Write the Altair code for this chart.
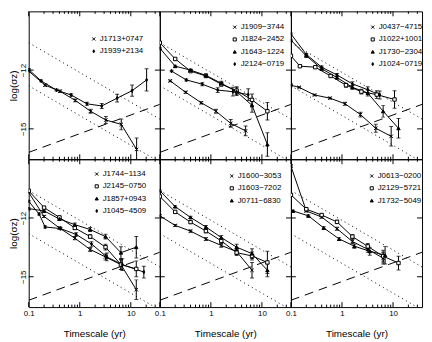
import altair as alt
import pandas as pd

# ---------------- data ----------------
# top-left panel
J1713_T = [0.1, 0.21, 0.41, 0.82, 1.63, 3.25, 6.5, 13.0]
J1713_V = [-12.05, -12.77, -13.08, -13.55, -14.1, -14.55, -14.77, -16.05]
J1713_E = [0.05, 0.05, 0.06, 0.07, 0.1, 0.18, 0.27, 0.58]
J1939_T = [0.1, 0.175, 0.35, 0.68, 1.38, 2.7, 5.4, 10.6, 20.4]
J1939_V = [-11.97, -12.55, -13.02, -13.27, -13.72, -13.83, -13.43, -13.05, -12.5]
J1939_E = [0.05, 0.05, 0.05, 0.06, 0.08, 0.13, 0.2, 0.29, 0.57]
# top-middle panel
J1909_T = [0.16, 0.32, 0.65, 1.26, 2.45, 4.8]
J1909_V = [-12.55, -13.13, -13.67, -14.1, -14.72, -15.1]
J1909_E = [0.04, 0.05, 0.06, 0.1, 0.2, 0.25]
J1824_T = [0.1, 0.2, 0.4, 0.8, 1.6, 3.2, 6.4, 12.8]
J1824_V = [-10.6, -11.43, -12.05, -12.3, -12.72, -13.05, -13.52, -14.1]
J1824_E = [0.04, 0.05, 0.06, 0.08, 0.1, 0.2, 0.3, 0.45]
J1643_T = [0.1, 0.2, 0.4, 0.8, 1.6, 3.2, 6.4, 12.8]
J1643_V = [-10.88, -11.8, -12.0, -12.27, -12.67, -13.1, -13.8, -15.8]
J1643_E = [0.04, 0.05, 0.06, 0.08, 0.1, 0.2, 0.35, 0.6]
J2124_T = [0.17, 0.33, 0.68, 1.36, 2.7, 5.4]
J2124_V = [-12.05, -12.5, -12.72, -13.02, -13.1, -13.25]
J2124_E = [0.04, 0.05, 0.08, 0.12, 0.22, 0.3]
# top-right panel
J0437_T = [0.1, 0.145, 0.29, 0.58, 1.15, 2.3, 4.6, 9.2]
J0437_V = [-12.77, -12.88, -13.27, -13.43, -13.72, -14.27, -14.97, -15.38]
J0437_E = [0.03, 0.03, 0.04, 0.05, 0.08, 0.12, 0.2, 0.5]
J1022_T = [0.1, 0.15, 0.3, 0.6, 1.2, 2.4, 4.8, 10.7]
J1022_V = [-11.27, -11.8, -11.85, -12.3, -12.77, -13.1, -13.25, -13.5]
J1022_E = [0.04, 0.05, 0.05, 0.07, 0.1, 0.12, 0.2, 0.45]
J1730_T = [0.1, 0.2, 0.4, 0.8, 1.6, 3.2, 6.4, 12.8]
J1730_V = [-10.47, -11.27, -11.93, -12.38, -12.88, -13.17, -14.1, -14.97]
J1730_E = [0.04, 0.05, 0.06, 0.08, 0.1, 0.15, 0.3, 0.5]
J1024_T = [0.1, 0.2, 0.4, 0.8, 1.6, 3.2, 5.5]
J1024_V = [-10.15, -11.2, -11.85, -12.25, -12.7, -13.0, -13.27]
J1024_E = [0.04, 0.05, 0.06, 0.08, 0.1, 0.15, 0.2]
# bottom-left panel
J1744_T = [0.1, 0.2, 0.4, 0.8, 1.6, 3.2, 6.4, 12.8]
J1744_V = [-10.7, -11.92, -12.51, -13.03, -13.61, -13.99, -14.38, -15.66]
J1744_E = [0.04, 0.05, 0.06, 0.08, 0.1, 0.15, 0.25, 0.5]
J2145_T = [0.1, 0.2, 0.4, 0.8, 1.6, 3.2, 6.4, 12.8]
J2145_V = [-10.61, -11.47, -11.97, -12.51, -12.95, -13.49, -14.38, -14.6]
J2145_E = [0.04, 0.05, 0.06, 0.08, 0.1, 0.15, 0.25, 0.4]
J1857_T = [0.1, 0.2, 0.4, 0.8, 1.6, 3.2, 6.4, 12.8]
J1857_V = [-11.52, -11.64, -12.05, -12.34, -12.59, -12.95, -13.77, -13.49]
J1857_E = [0.04, 0.05, 0.06, 0.08, 0.1, 0.12, 0.3, 0.55]
J1045_T = [0.1, 0.16, 0.21, 0.42, 0.85, 1.7, 3.4, 6.8, 18.0]
J1045_V = [-11.15, -11.8, -12.46, -12.54, -12.84, -13.33, -13.99, -14.38, -14.76]
J1045_E = [0.04, 0.05, 0.05, 0.06, 0.08, 0.12, 0.2, 0.3, 0.3]
# bottom-middle panel
J1600_T = [0.1, 0.2, 0.4, 0.8, 1.6, 3.2, 6.4]
J1600_V = [-11.89, -12.38, -12.67, -13.07, -13.4, -13.72, -14.67]
J1600_E = [0.04, 0.05, 0.06, 0.08, 0.1, 0.15, 0.4]
J1603_T = [0.1, 0.2, 0.4, 0.8, 1.6, 3.2, 6.4, 12.8]
J1603_V = [-10.9, -11.69, -12.21, -12.67, -13.17, -13.77, -13.94, -14.27]
J1603_E = [0.04, 0.05, 0.06, 0.08, 0.1, 0.15, 0.2, 0.57]
J0711_T = [0.1, 0.2, 0.4, 0.8, 1.6, 3.2, 6.4, 12.8]
J0711_V = [-10.61, -11.42, -11.97, -12.46, -13.0, -13.49, -13.82, -14.67]
J0711_E = [0.04, 0.05, 0.06, 0.08, 0.1, 0.15, 0.25, 0.33]
# bottom-right panel
J0613_T = [0.1, 0.2, 0.4, 0.8, 1.6, 3.2, 6.4]
J0613_V = [-9.35, -11.64, -11.95, -12.55, -13.2, -13.6, -14.05]
J0613_E = [0.04, 0.05, 0.06, 0.08, 0.1, 0.15, 0.3]
J2129_T = [0.1, 0.2, 0.4, 0.8, 1.6, 3.2, 6.4, 12.8]
J2129_V = [-10.82, -11.55, -11.85, -12.2, -12.95, -13.45, -13.95, -14.3]
J2129_E = [0.04, 0.05, 0.06, 0.08, 0.1, 0.15, 0.3, 0.35]
J1732_T = [0.11, 0.22, 0.44, 0.88, 1.75, 3.5, 7.0]
J1732_V = [-11.64, -11.89, -12.51, -13.07, -13.44, -13.7, -13.9]
J1732_E = [0.04, 0.05, 0.06, 0.08, 0.1, 0.2, 0.45]

# symbols: 0 = x, 1 = open square, 2 = triangle, 3 = diamond
PANELS = [
    [("J1713+0747", J1713_T, J1713_V, J1713_E, 0), ("J1939+2134", J1939_T, J1939_V, J1939_E, 3)],
    [("J1909\u22123744", J1909_T, J1909_V, J1909_E, 0), ("J1824\u22122452", J1824_T, J1824_V, J1824_E, 1),
     ("J1643\u22121224", J1643_T, J1643_V, J1643_E, 2), ("J2124\u22120719", J2124_T, J2124_V, J2124_E, 3)],
    [("J0437\u22124715", J0437_T, J0437_V, J0437_E, 0), ("J1022+1001", J1022_T, J1022_V, J1022_E, 1),
     ("J1730\u22122304", J1730_T, J1730_V, J1730_E, 2), ("J1024\u22120719", J1024_T, J1024_V, J1024_E, 3)],
    [("J1744\u22121134", J1744_T, J1744_V, J1744_E, 0), ("J2145\u22120750", J2145_T, J2145_V, J2145_E, 1),
     ("J1857+0943", J1857_T, J1857_V, J1857_E, 2), ("J1045\u22124509", J1045_T, J1045_V, J1045_E, 3)],
    [("J1600\u22123053", J1600_T, J1600_V, J1600_E, 0), ("J1603\u22127202", J1603_T, J1603_V, J1603_E, 1),
     ("J0711\u22126830", J0711_T, J0711_V, J0711_E, 2)],
    [("J0613\u22120200", J0613_T, J0613_V, J0613_E, 0), ("J2129\u22125721", J2129_T, J2129_V, J2129_E, 1),
     ("J1732\u22125049", J1732_T, J1732_V, J1732_E, 2)],
]
SHAPE_PATHS = ["M-1,-1L1,1M-1,1L1,-1", "square", "triangle-up", "M0,-1L0.55,0L0,1L-0.55,0Z"]
SHAPE_FILLS = ["transparent", "white", "black", "black"]

# reference lines (two dotted white-noise lines and a dashed line)
DOT_T = [0.1, 37.0]
DOT_HI = [-10.6, -14.5]
DOT_LO = [-12.8, -16.7]
DASH_T = [0.1, 37.0]
DASH_V = [-16.2, -13.75]

X_DOMAIN = [0.1, 37.0]
Y_DOMAIN = [-16.55, -9.0]
XMAJ = [0.1, 1, 10]
XMIN = [0.2, 0.3, 0.4, 0.5, 0.6, 0.7, 0.8, 0.9, 2, 3, 4, 5, 6, 7, 8, 9, 20, 30]
YMAJ = [-15, -12]

LEGEND_POS = [(62, 24), (72, 12), (79, 12), (65, 11), (69, 13), (78, 13)]

W, H = 133, 150
FONT = "Liberation Sans"


def panel(idx, series):
    row, col = divmod(idx, 3)
    xs = alt.Scale(type="log", domain=X_DOMAIN)
    ys = alt.Scale(domain=Y_DOMAIN)
    if row == 1:
        xaxis = alt.Axis(values=XMAJ, format="~g", title="Timescale (yr)", domain=False,
                         ticks=False, grid=False, labelFontSize=8, labelPadding=3,
                         titleFontSize=10, titlePadding=11, labelFlush=False)
    else:
        xaxis = None
    if col == 0:
        yaxis = alt.Axis(values=YMAJ, title="log(\u03c3z)", domain=False, ticks=False,
                         grid=False, labelAngle=-90, labelAlign="center",
                         labelBaseline="bottom", labelFontSize=8, labelPadding=1,
                         titleFontSize=10, titlePadding=1)
    else:
        yaxis = None

    def X(f):
        return alt.X(f, type="quantitative", scale=xs, axis=xaxis)

    def Y(f):
        return alt.Y(f, type="quantitative", scale=ys, axis=yaxis)

    rows = []
    for name, T, V, E, _ in series:
        for t, v, e in zip(T, V, E):
            rows.append({"series": name, "T": t, "V": v, "lo": v - e, "hi": v + e})
    df = pd.DataFrame(rows)
    names = [s[0] for s in series]
    shapes = [SHAPE_PATHS[s[4]] for s in series]
    fills = [SHAPE_FILLS[s[4]] for s in series]
    n = len(names)

    dot_df = pd.DataFrame({"T": DOT_T + DOT_T, "V": DOT_HI + DOT_LO, "line": ["a", "a", "b", "b"]})
    dash_df = pd.DataFrame({"T": DASH_T, "V": DASH_V})

    dotted = alt.Chart(dot_df).mark_line(color="black", strokeWidth=1, strokeDash=[1, 3.5],
                                         clip=True).encode(x=X("T"), y=Y("V"), detail="line:N")
    dashed = alt.Chart(dash_df).mark_line(color="black", strokeWidth=1, strokeDash=[9, 6],
                                          clip=True).encode(x=X("T"), y=Y("V"))
    lines = alt.Chart(df).mark_line(color="black", strokeWidth=1, clip=True).encode(
        x=X("T"), y=Y("V"), detail="series:N")
    bars = alt.Chart(df).mark_rule(color="black", strokeWidth=1, clip=True).encode(
        x=X("T"), y=Y("lo"), y2="hi")
    cap_lo = alt.Chart(df).mark_tick(color="black", orient="horizontal", size=4, thickness=1,
                                     clip=True).encode(x=X("T"), y=Y("lo"))
    cap_hi = alt.Chart(df).mark_tick(color="black", orient="horizontal", size=4, thickness=1,
                                     clip=True).encode(x=X("T"), y=Y("hi"))

    lx, ly = LEGEND_POS[idx]
    leg = alt.Legend(orient="none", legendX=lx, legendY=ly, title=None, labelFontSize=8,
                     labelFont=FONT, labelColor="black", symbolSize=10,
                     symbolStrokeWidth=1, rowPadding=4.5, labelOffset=2, padding=0)
    points = alt.Chart(df).mark_point(strokeWidth=1, size=12, opacity=1, clip=True).encode(
        x=X("T"), y=Y("V"),
        shape=alt.Shape("series:N", scale=alt.Scale(domain=names, range=shapes), legend=leg),
        fill=alt.Fill("series:N", scale=alt.Scale(domain=names, range=fills), legend=leg),
        stroke=alt.Stroke("series:N", scale=alt.Scale(domain=names, range=["black"] * n), legend=leg),
    )

    xmaj = pd.DataFrame({"T": XMAJ})
    xmin = pd.DataFrame({"T": XMIN})
    ymaj = pd.DataFrame({"V": YMAJ})
    tk = dict(color="black", strokeWidth=1)
    frame = [
        alt.Chart(xmaj).mark_rule(**tk).encode(x=X("T"), y=alt.value(0), y2=alt.value(5)),
        alt.Chart(xmaj).mark_rule(**tk).encode(x=X("T"), y=alt.value(H), y2=alt.value(H - 5)),
        alt.Chart(xmin).mark_rule(**tk).encode(x=X("T"), y=alt.value(0), y2=alt.value(2.5)),
        alt.Chart(xmin).mark_rule(**tk).encode(x=X("T"), y=alt.value(H), y2=alt.value(H - 2.5)),
        alt.Chart(ymaj).mark_rule(**tk).encode(y=Y("V"), x=alt.value(0), x2=alt.value(5)),
        alt.Chart(ymaj).mark_rule(**tk).encode(y=Y("V"), x=alt.value(W), x2=alt.value(W - 5)),
    ]

    return alt.layer(dotted, dashed, lines, bars, cap_lo, cap_hi, points, *frame).properties(
        width=W, height=H)


panels = [panel(i, s) for i, s in enumerate(PANELS)]

chart = (
    alt.concat(*panels, columns=3, spacing=0, bounds="flush")
    .resolve_scale(shape="independent", fill="independent", stroke="independent")
    .resolve_legend(shape="independent", fill="independent", stroke="independent")
    .properties(padding=0)
    .configure_view(stroke="black", strokeWidth=1)
    .configure_axis(labelColor="black", titleColor="black", labelFont=FONT, titleFont=FONT,
                    titleFontWeight="normal")
)

chart.save("out.html", embed_options={"renderer": "svg", "actions": False})
